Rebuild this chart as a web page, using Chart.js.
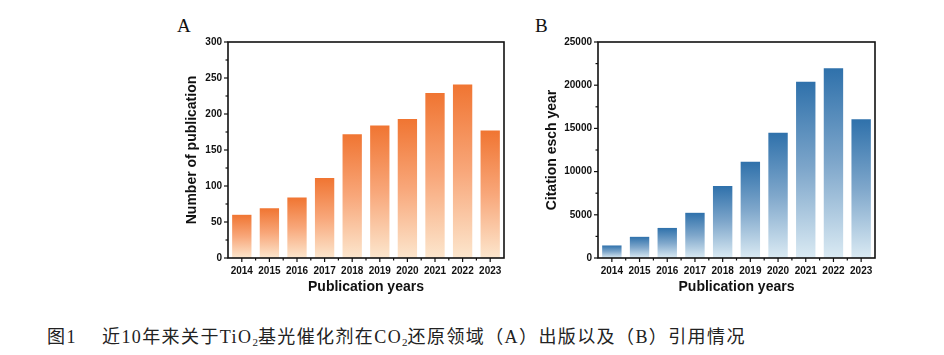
<!DOCTYPE html>
<html><head><meta charset="utf-8">
<script src="https://cdn.jsdelivr.net/npm/chart.js@4.4.1/dist/chart.umd.min.js"></script>
<style>
html,body{margin:0;padding:0;background:#fff;width:944px;height:355px;overflow:hidden;}
.wrap{position:absolute;}
.lbl{position:absolute;font-family:"Liberation Serif","DejaVu Serif",serif;font-size:19px;color:#111;}
.cap{position:absolute;top:322px;font-family:"Liberation Serif","Noto Sans CJK SC",serif;font-size:18px;color:#222;white-space:nowrap;letter-spacing:1.4px;}
.cap sub{font-size:11px;vertical-align:-3px;letter-spacing:0;}
</style></head><body>
<div class="lbl" style="left:177px;top:15px;">A</div>
<div class="lbl" style="left:535px;top:15px;">B</div>
<div class="wrap" style="left:184px;top:30px;width:330px;height:270px;"><canvas id="cA" width="330" height="270"></canvas></div>
<div class="wrap" style="left:544px;top:30px;width:341px;height:270px;"><canvas id="cB" width="341" height="270"></canvas></div>
<div class="cap" style="left:47px;">图1</div>
<div class="cap" style="left:102px;">近10年来关于TiO<sub>2</sub>基光催化剂在CO<sub>2</sub>还原领域（A）出版以及（B）引用情况</div>
<script>
const years = ["2014","2015","2016","2017","2018","2019","2020","2021","2022","2023"];
const publications = [60, 69, 84, 111, 172, 184, 193, 229, 241, 177];
const citations = [1450, 2450, 3480, 5230, 8330, 11140, 14500, 20400, 21970, 16060];
const pubTicks = [0, 50, 100, 150, 200, 250, 300];
const citTicks = [0, 5000, 10000, 15000, 20000, 25000];

const frame = {
  id: 'frame',
  afterDraw(chart) {
    const {ctx, chartArea: a, scales} = chart;
    ctx.save();
    ctx.strokeStyle = '#111';
    ctx.lineWidth = 1.6;
    ctx.strokeRect(a.left, a.top, a.right - a.left, a.bottom - a.top);
    ctx.lineWidth = 1.2;
    const xs = scales.x, ys = scales.y;
    const n = xs.ticks.length;
    for (let i = 0; i < n; i++) {
      const p = xs.getPixelForValue(i);
      ctx.beginPath(); ctx.moveTo(p, a.bottom); ctx.lineTo(p, a.bottom + 4); ctx.stroke();
      if (i < n - 1) {
        const m = (p + xs.getPixelForValue(i + 1)) / 2;
        ctx.beginPath(); ctx.moveTo(m, a.bottom); ctx.lineTo(m, a.bottom + 2.5); ctx.stroke();
      }
    }
    const yt = ys.ticks.map(t => t.value);
    for (let i = 0; i < yt.length; i++) {
      const p = ys.getPixelForValue(yt[i]);
      ctx.beginPath(); ctx.moveTo(a.left, p); ctx.lineTo(a.left - 4, p); ctx.stroke();
      if (i < yt.length - 1) {
        const m = ys.getPixelForValue((yt[i] + yt[i + 1]) / 2);
        ctx.beginPath(); ctx.moveTo(a.left, m); ctx.lineTo(a.left - 2.5, m); ctx.stroke();
      }
    }
    ctx.restore();
  }
};

function grad(top, mid, bottom) {
  return (c) => {
    const chart = c.chart;
    if (!chart.chartArea || c.parsed === undefined) return top;
    const ys = chart.scales.y;
    const y0 = ys.getPixelForValue(c.parsed.y);
    const y1 = ys.getPixelForValue(0);
    if (!isFinite(y0) || !isFinite(y1) || y0 === y1) return top;
    const g = chart.ctx.createLinearGradient(0, y0, 0, y1);
    g.addColorStop(0, top);
    g.addColorStop(0.5, mid);
    g.addColorStop(1, bottom);
    return g;
  };
}

function make(id, data, ticks, max, title, cols, yw) {
  new Chart(document.getElementById(id), {
    type: 'bar',
    data: { labels: years, datasets: [{ data, backgroundColor: grad(cols[0], cols[1], cols[2]), borderWidth: 0, barPercentage: 0.7, categoryPercentage: 1 }] },
    options: {
      responsive: false, animation: false, devicePixelRatio: 1,
      layout: { padding: { top: 2, right: 10, left: 0, bottom: 0 } },
      plugins: { legend: { display: false }, tooltip: { enabled: false } },
      scales: {
        x: {
          grid: { display: false, drawTicks: false },
          border: { display: false },
          ticks: { color: '#111', font: { family: 'Liberation Sans, Arial', size: 10, weight: 'bold' }, padding: 7, maxRotation: 0, autoSkip: false },
          title: { display: true, text: 'Publication years', color: '#111', font: { family: 'Liberation Sans, Arial', size: 14, weight: 'bold' }, padding: { top: 3 } },
          afterFit(s) { s.height = 42; }
        },
        y: {
          min: 0, max: max,
          grid: { display: false, drawTicks: false },
          border: { display: false },
          afterBuildTicks(s) { s.ticks = ticks.map(v => ({ value: v })); },
          ticks: { color: '#111', font: { family: 'Liberation Sans, Arial', size: 10, weight: 'bold' }, padding: 6, callback: (v) => String(v) },
          title: { display: true, text: title, color: '#111', font: { family: 'Liberation Sans, Arial', size: 14, weight: 'bold' }, padding: { top: 0, bottom: 0 } },
          afterFit(s) { s.width = yw; }
        }
      }
    },
    plugins: [frame]
  });
}
make('cA', publications, pubTicks, 300, 'Number of publication', ['#F07532', '#F8A77A', '#FCE6CD'], 44);
make('cB', citations, citTicks, 25000, 'Citation esch year', ['#2F71AB', '#7FA7CB', '#DAEAF3'], 54);
</script>
</body></html>
